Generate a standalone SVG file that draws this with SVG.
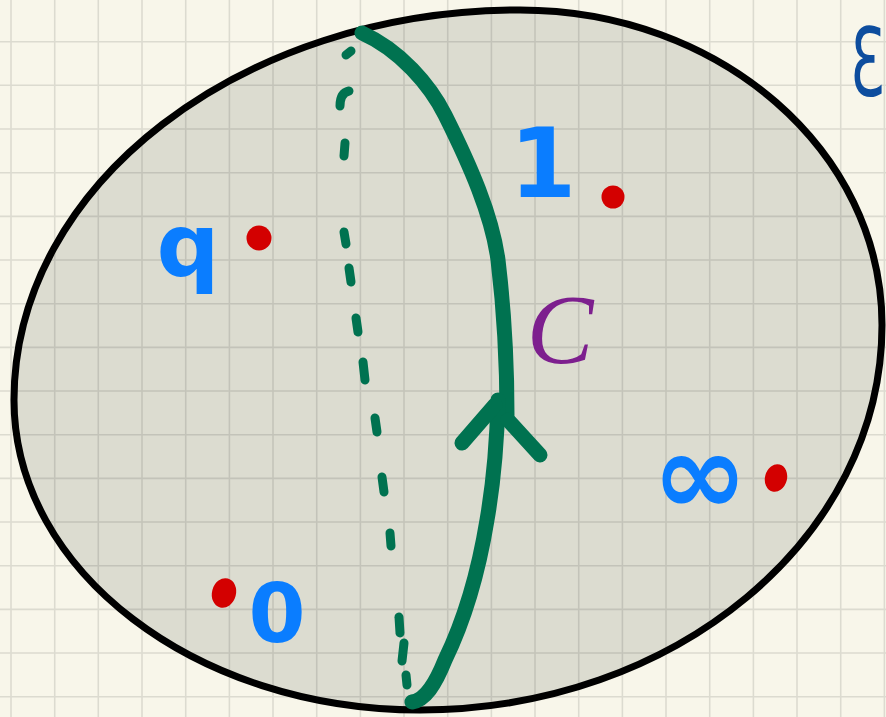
<svg xmlns="http://www.w3.org/2000/svg" width="886" height="717" viewBox="0 0 886 717">
  <style>
    .grid { fill: none; stroke: #000; stroke-opacity: 0.11; stroke-width: 1.6; }
    .green { fill: none; stroke: #007250; stroke-linecap: round; stroke-linejoin: round; }
    .dot { fill: #d30000; }
    .lbl { fill: #0a7dff; font-family: "DejaVu Sans", "Liberation Sans", sans-serif; font-weight: bold; }
  </style>
  <rect x="0" y="0" width="886" height="717" fill="#f8f6ea"/>
  <g id="set-fill">
    <path d="M14,400 C14,185 241,10 520,10 C720,10 882,151 882,325 C882,538 675,710 420,710 C196,710 14,571 14,400 Z" fill="#dcdcd0"/>
  </g>
  <path class="grid" d="M11,0V717M54.7,0V717M98.3,0V717M142,0V717M185.7,0V717M229.4,0V717M273,0V717M316.7,0V717M360.4,0V717M404,0V717M447.7,0V717M491.4,0V717M535,0V717M578.7,0V717M622.4,0V717M666,0V717M709.7,0V717M753.4,0V717M797,0V717M840.7,0V717M884.4,0V717M0,41.7H886M0,85.3H886M0,129H886M0,172.7H886M0,216.4H886M0,260H886M0,303.7H886M0,347.4H886M0,391H886M0,434.7H886M0,478.4H886M0,522H886M0,565.7H886M0,609.4H886M0,653H886M0,696.7H886"/>
  <g id="set-outline">
    <path d="M14,400 C14,185 241,10 520,10 C720,10 882,151 882,325 C882,538 675,710 420,710 C196,710 14,571 14,400 Z" fill="none" stroke="#000" stroke-width="7"/>
  </g>
  <g id="connectors">
    <g id="dashed-path" class="green" stroke-width="9">
      <path d="M346,55 L351,51"/>
      <path d="M349,91 Q340,93 340,106"/>
      <path d="M345,143 L344,156"/>
      <path d="M344,232 L346,244"/>
      <path d="M349,268 L351,282"/>
      <path d="M356,318 L358,332"/>
      <path d="M363,362 L365,380"/>
      <path d="M375,418 L377,432"/>
      <path d="M382,477 L384,492"/>
      <path d="M390,533 L391,546"/>
      <path d="M399,617 L400,633"/>
      <path d="M404,643 L402,661"/>
      <path d="M406,675 L407,685"/>
    </g>
    <g id="loop-c" class="green" stroke-width="15">
      <path d="M362,33 C400,50 430,85 445,115 C470,165 492,215 498,260 C504,310 507,360 507,415"/>
      <path d="M498,400 C497,440 494,480 487,520 C478,575 462,625 445,660 C435,685 425,700 412,702"/>
      <path d="M462,443 L495,405 M508,420 L540,455"/>
    </g>
  </g>
  <g id="point-1">
    <text class="lbl" x="543" y="197" font-size="96" text-anchor="middle">1</text>
    <circle class="dot" cx="613" cy="197" r="11.5"/>
  </g>
  <g id="point-q">
    <text class="lbl" x="188" y="276" font-size="88" text-anchor="middle">q</text>
    <circle class="dot" cx="259" cy="238" r="12.5"/>
  </g>
  <g id="point-inf">
    <text class="lbl" x="700" y="514" font-size="115" text-anchor="middle">∞</text>
    <ellipse class="dot" cx="776" cy="478" rx="11" ry="14" transform="rotate(15 776 478)"/>
  </g>
  <g id="point-0">
    <text class="lbl" x="277" y="642" font-size="82" text-anchor="middle">0</text>
    <ellipse class="dot" cx="224" cy="593" rx="12" ry="15" transform="rotate(15 224 593)"/>
  </g>
  <g id="label-C">
    <text x="560" y="363" font-size="100" font-family="'Liberation Serif', serif" font-style="italic" fill="#7d1f8e" text-anchor="middle">C</text>
  </g>
  <g id="label-E">
    <text transform="translate(850,96) scale(0.6,1)" x="0" y="0" font-size="94" font-family="'DejaVu Sans', sans-serif" fill="#0d4d9e">Ɛ</text>
  </g>
</svg>
